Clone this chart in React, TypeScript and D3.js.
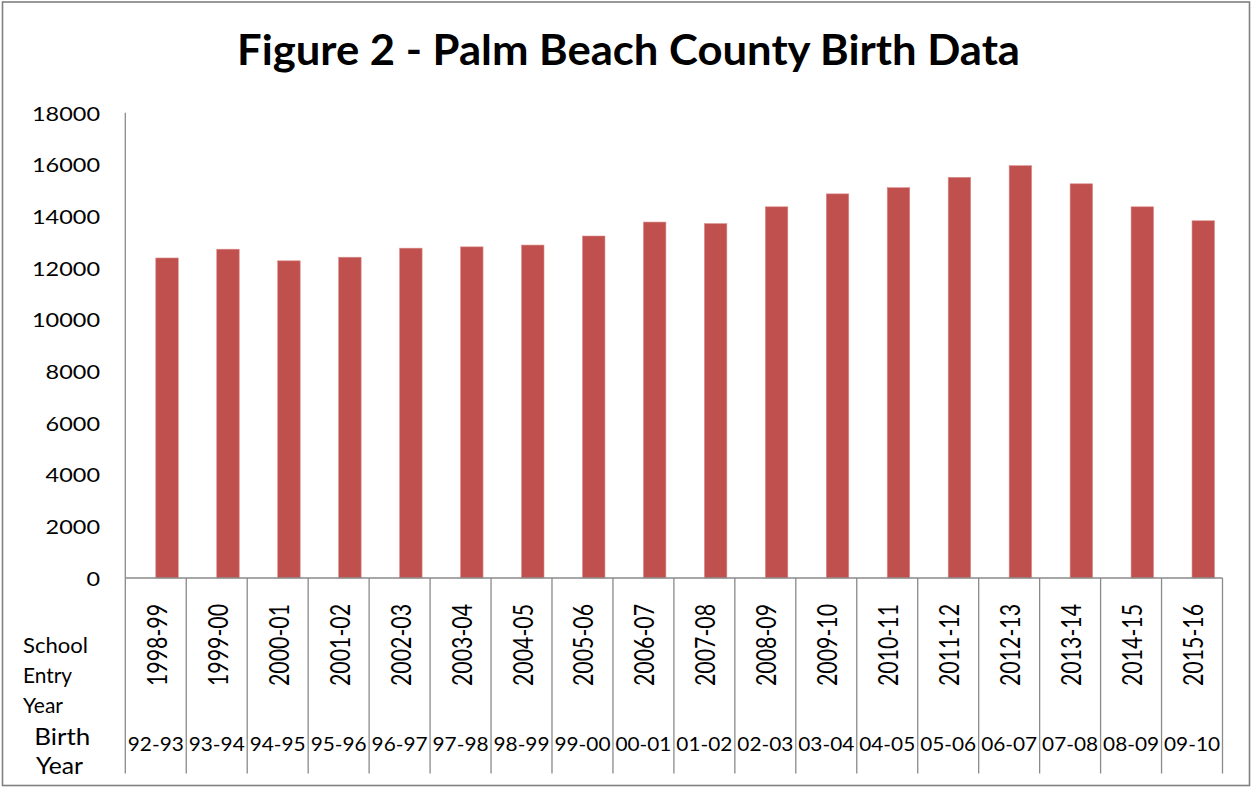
import React, { useEffect } from "react";
import * as d3 from "d3";

const schoolYears = [
  "1998-99", "1999-00", "2000-01", "2001-02", "2002-03", "2003-04",
  "2004-05", "2005-06", "2006-07", "2007-08", "2008-09", "2009-10",
  "2010-11", "2011-12", "2012-13", "2013-14", "2014-15", "2015-16",
];
const birthYears = [
  "92-93", "93-94", "94-95", "95-96", "96-97", "97-98", "98-99", "99-00",
  "00-01", "01-02", "02-03", "03-04", "04-05", "05-06", "06-07", "07-08",
  "08-09", "09-10",
];
const births = [
  12380, 12720, 12270, 12410, 12760, 12810, 12880, 13230, 13770,
  13710, 14360, 14860, 15100, 15500, 15950, 15250, 14360, 13820,
];
const yTicks = [0, 2000, 4000, 6000, 8000, 10000, 12000, 14000, 16000, 18000];
const seriesSlots = ["(blank)", "Births"];
const title = "Figure 2 - Palm Beach County Birth Data";
const schoolLabel = ["School", "Entry", "Year"];
const birthLabel = ["Birth", "Year"];

const W = 1252;
const H = 788;
const FONT = "Lato, 'Open Sans', sans-serif";

export default function App() {
  useEffect(() => {
    document.body.style.margin = "0";
  }, []);

  const x = d3.scaleBand<string>().domain(schoolYears).range([125.3, 1222.5]).padding(0);
  const inner = d3
    .scaleBand<string>()
    .domain(seriesSlots)
    .range([0, x.bandwidth()])
    .paddingInner(0)
    .paddingOuter(0.355);
  const y = d3.scaleLinear().domain([0, 18000]).range([578, 112.7]);

  const axisColor = "#8a8a8a";
  const dividers = schoolYears.map((c) => x(c) as number).concat([x.range()[1]]);

  return (
    <svg width={W} height={H} style={{ display: "block", background: "#fff" }}>
      <rect x={0} y={0} width={W} height={H} fill="#fff" />
      <rect x={2.5} y={2} width={1247} height={783.5} fill="none" stroke="#808080" strokeWidth={1.6} />

      <text
        x={237}
        y={65}
        fontFamily={FONT}
        fontWeight={700}
        fontSize={42}
        textLength={783}
        lengthAdjust="spacingAndGlyphs"
        fill="#000"
      >
        {title}
      </text>

      {/* bars */}
      {births.map((v, i) => {
        const c = schoolYears[i];
        const bx = (x(c) as number) + (inner("Births") as number);
        return (
          <rect
            key={c}
            x={bx}
            y={y(v)}
            width={inner.bandwidth()}
            height={y(0) - y(v)}
            fill="#C0504D"
            stroke="#d98f8d"
            strokeWidth={0.6}
          />
        );
      })}

      {/* y axis */}
      <line x1={125.3} x2={125.3} y1={y(18000)} y2={y(0)} stroke={axisColor} strokeWidth={1.3} />
      {yTicks.map((t) => {
        const s = String(t);
        return (
          <text
            key={t}
            x={100}
            y={y(t) + 7.8}
            textAnchor="end"
            fontFamily={FONT}
            fontSize={19}
            textLength={13.6 * s.length}
            lengthAdjust="spacingAndGlyphs"
            fill="#000"
          >
            {s}
          </text>
        );
      })}

      {/* x axis line and dividers */}
      <line x1={125.3} x2={1222.5} y1={y(0)} y2={y(0)} stroke={axisColor} strokeWidth={1.3} />
      {dividers.map((dx, i) => (
        <line key={i} x1={dx} x2={dx} y1={y(0)} y2={773.5} stroke={axisColor} strokeWidth={1.3} />
      ))}

      {/* rotated school-year labels */}
      {schoolYears.map((c) => {
        const cx = (x(c) as number) + x.bandwidth() / 2;
        return (
          <text
            key={c}
            transform={`translate(${cx + 11},686) rotate(-90)`}
            fontFamily={FONT}
            fontSize={26}
            textLength={82}
            lengthAdjust="spacingAndGlyphs"
            fill="#000"
          >
            {c}
          </text>
        );
      })}

      {/* birth year labels */}
      {birthYears.map((b, i) => {
        const cx = (x(schoolYears[i]) as number) + x.bandwidth() / 2;
        return (
          <text
            key={b}
            x={cx}
            y={750.7}
            textAnchor="middle"
            fontFamily={FONT}
            fontSize={19.5}
            textLength={56}
            lengthAdjust="spacingAndGlyphs"
            fill="#000"
          >
            {b}
          </text>
        );
      })}

      {/* row labels */}
      {schoolLabel.map((s, i) => (
        <text
          key={s + i}
          x={23}
          y={653.3 + i * 29.7}
          fontFamily={FONT}
          fontSize={21}
          textLength={[65, 49, 40][i]}
          lengthAdjust="spacingAndGlyphs"
          fill="#000"
        >
          {s}
        </text>
      ))}
      {birthLabel.map((s, i) => (
        <text
          key={s + i}
          x={[34.3, 36][i]}
          y={745 + i * 29}
          fontFamily={FONT}
          fontSize={23.7}
          textLength={[56, 47][i]}
          lengthAdjust="spacingAndGlyphs"
          fill="#000"
        >
          {s}
        </text>
      ))}
    </svg>
  );
}
